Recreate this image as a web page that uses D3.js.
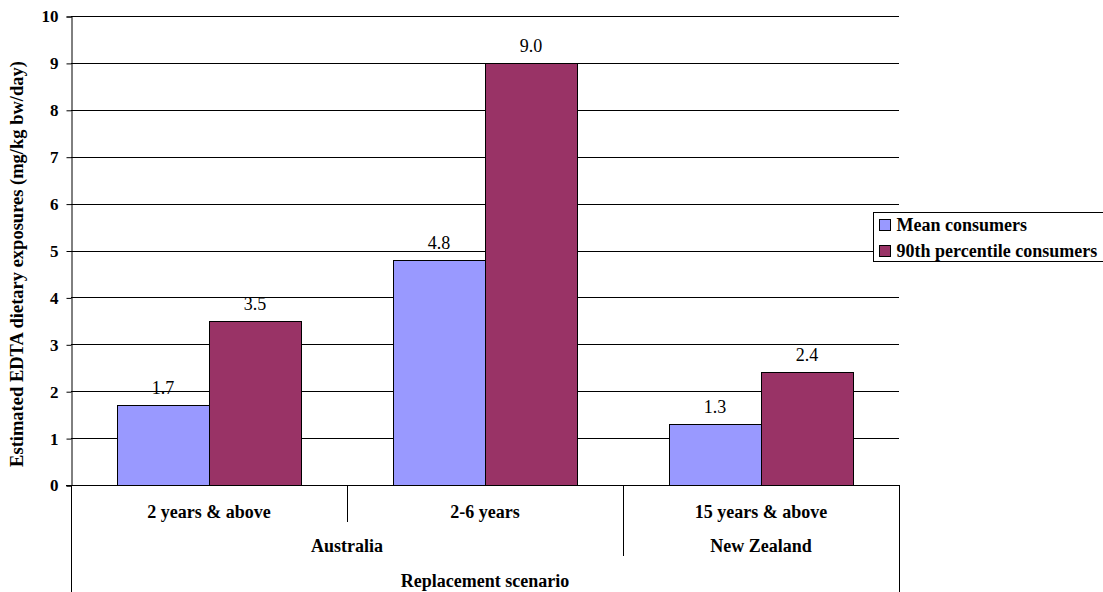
<!DOCTYPE html>
<html>
<head>
<meta charset="utf-8">
<script src="https://cdn.jsdelivr.net/npm/d3@7"></script>
<style>
  html, body { margin: 0; padding: 0; background: #fff; }
  svg { display: block; font-family: "Liberation Serif", "Times New Roman", serif; }
  svg text { font-family: "Liberation Serif", "Times New Roman", serif; }
</style>
</head>
<body>
<svg id="chart" width="1103" height="592"></svg>
<script>
// Estimated EDTA dietary exposures by population group
const categories = ["2 years & above", "2-6 years", "15 years & above"];
const countries = [
  { name: "Australia", span: [0, 2] },
  { name: "New Zealand", span: [2, 3] }
];
const seriesNames = ["Mean consumers", "90th percentile consumers"];
const meanValues = [1.7, 4.8, 1.3];
const p90Values = [3.5, 9.0, 2.4];
const yTicks = [0, 1, 2, 3, 4, 5, 6, 7, 8, 9, 10];
const colors = ["#9999ff", "#993366"];
const scenarioTitle = "Replacement scenario";
const yTitle = "Estimated EDTA dietary exposures (mg/kg bw/day)";

const svg = d3.select("#chart");
const plot = { left: 71, right: 899, top: 16, bottom: 485 };

const x = d3.scaleBand().domain(d3.range(categories.length))
  .range([plot.left, plot.right]).paddingInner(0).paddingOuter(0);
const xInner = d3.scaleBand().domain([0, 1])
  .range([x.bandwidth() / 6, x.bandwidth() * 5 / 6]);
const y = d3.scaleLinear().domain([0, 10]).range([plot.bottom, plot.top]);

// gridlines
svg.append("g").selectAll("line").data(yTicks.filter(d => d > 0)).join("line")
  .attr("x1", plot.left).attr("x2", plot.right)
  .attr("y1", d => Math.round(y(d)) + 0.5).attr("y2", d => Math.round(y(d)) + 0.5)
  .attr("stroke", "#000").attr("stroke-width", 1);

// y axis
const yAxis = svg.append("g").attr("transform", `translate(${plot.left + 0.5},0.5)`)
  .call(d3.axisLeft(y).tickValues(yTicks).tickSize(5).tickPadding(8).tickFormat(d3.format("d")));
yAxis.select(".domain").attr("stroke", "#000");
yAxis.selectAll(".tick line").attr("stroke", "#000");
yAxis.selectAll(".tick text")
  .attr("font-family", null).attr("font-size", 17)
  .attr("font-weight", "bold").attr("fill", "#000");

// bars
const rows = categories.map((c, i) => [meanValues[i], p90Values[i]]);
const groups = svg.append("g").selectAll("g").data(rows).join("g")
  .attr("transform", (d, i) => `translate(${x(i)},0)`);
groups.selectAll("rect").data(d => d.map((v, s) => ({ v, s }))).join("rect")
  .attr("x", d => Math.round(xInner(d.s)) + 0.5)
  .attr("width", xInner.bandwidth())
  .attr("y", d => Math.round(y(d.v)) + 0.5)
  .attr("height", d => y(0) - Math.round(y(d.v)))
  .attr("fill", d => colors[d.s]).attr("stroke", "#000").attr("stroke-width", 1);
groups.selectAll("text").data(d => d.map((v, s) => ({ v, s }))).join("text")
  .attr("x", d => xInner(d.s) + xInner.bandwidth() / 2)
  .attr("y", d => y(d.v) - 11)
  .attr("text-anchor", "middle").attr("font-size", 18).attr("fill", "#000")
  .text(d => d3.format(".1f")(d.v));

// x axis baseline
svg.append("line").attr("x1", plot.left - 5).attr("x2", plot.right)
  .attr("y1", plot.bottom + 0.5).attr("y2", plot.bottom + 0.5).attr("stroke", "#000");

// multi-level category axis
const catLabelY = 518, countryLabelY = 552, scenarioLabelY = 587;
svg.append("g").selectAll("text").data(categories).join("text")
  .attr("x", (d, i) => x(i) + x.bandwidth() / 2).attr("y", catLabelY)
  .attr("text-anchor", "middle").attr("font-size", 18).attr("font-weight", "bold")
  .text(d => d);

// dividers between categories
const dividers = d3.range(1, categories.length).map(i => {
  const countryBoundary = countries.some(c => c.span[0] === i);
  return { x: x(i), y2: countryBoundary ? 556 : 522 };
});
svg.append("g").selectAll("line").data(dividers).join("line")
  .attr("x1", d => Math.round(d.x) + 0.5).attr("x2", d => Math.round(d.x) + 0.5)
  .attr("y1", plot.bottom).attr("y2", d => d.y2).attr("stroke", "#000");

// outer edges reach through all levels
svg.append("g").selectAll("line").data([plot.left, plot.right]).join("line")
  .attr("x1", d => d + 0.5).attr("x2", d => d + 0.5)
  .attr("y1", plot.bottom).attr("y2", 592).attr("stroke", "#000");

svg.append("g").selectAll("text").data(countries).join("text")
  .attr("x", d => (x(d.span[0]) + x(d.span[1] - 1) + x.bandwidth()) / 2)
  .attr("y", countryLabelY)
  .attr("text-anchor", "middle").attr("font-size", 18).attr("font-weight", "bold")
  .text(d => d.name);

svg.append("text").attr("x", (plot.left + plot.right) / 2).attr("y", scenarioLabelY)
  .attr("text-anchor", "middle").attr("font-size", 18).attr("font-weight", "bold")
  .text(scenarioTitle);

// y axis title
svg.append("text")
  .attr("transform", "translate(23,264) rotate(-90)")
  .attr("text-anchor", "middle").attr("font-size", 18.5).attr("font-weight", "bold")
  .text(yTitle);

// legend
const legend = svg.append("g").attr("transform", "translate(873.5,212.5)");
legend.append("rect").attr("width", 240).attr("height", 49)
  .attr("fill", "#fff").attr("stroke", "#000");
const items = legend.selectAll("g").data(seriesNames).join("g")
  .attr("transform", (d, i) => `translate(6,${7 + i * 26})`);
items.append("rect").attr("width", 11).attr("height", 11)
  .attr("fill", (d, i) => colors[i]).attr("stroke", "#000");
items.append("text").attr("x", 17).attr("y", 11)
  .attr("font-size", 18).attr("font-weight", "bold").text(d => d);
</script>
</body>
</html>
